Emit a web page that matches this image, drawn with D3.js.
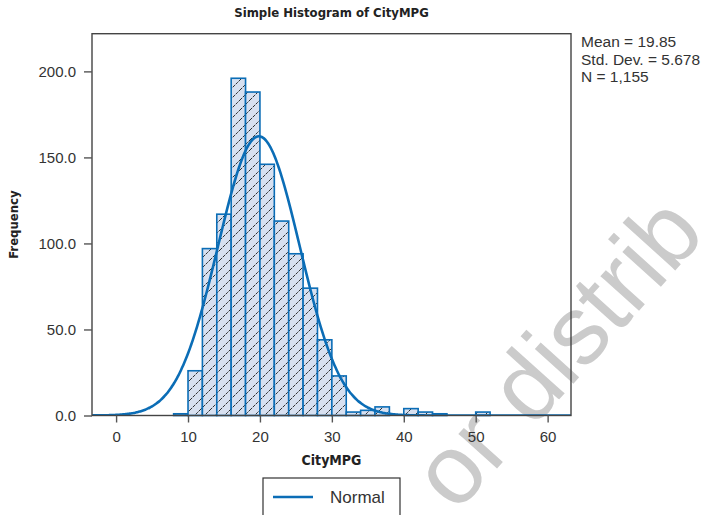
<!DOCTYPE html>
<html>
<head>
<meta charset="utf-8">
<script src="https://cdn.jsdelivr.net/npm/d3@7"></script>
<style>
  html, body { margin: 0; padding: 0; background: #fff; }
  svg { display: block; }
</style>
</head>
<body>
<svg id="chart" width="710" height="515"></svg>
<script>
// ---- data ----
const binLower = [8, 10, 12, 14, 16, 18, 20, 22, 24, 26, 28, 30, 32, 34, 36, 40, 42, 44, 50];
const binCounts = [1, 26, 97, 117, 196, 188, 146, 113, 94, 74, 44, 23, 2, 3, 5, 4, 2, 1, 2];
const binWidth = 2;
const statMean = 19.85;
const statSD = 5.678;
const statN = 1155;
const statLines = ["Mean = 19.85", "Std. Dev. = 5.678", "N = 1,155"];
const yTicks = [0, 50, 100, 150, 200];
const xTicks = [0, 10, 20, 30, 40, 50, 60];
const titleText = "Simple Histogram of CityMPG";
const xLabel = "CityMPG";
const yLabel = "Frequency";
const legendLabel = "Normal";
const watermarkText = "or distrib";

// ---- layout ----
const svg = d3.select("#chart");
const L = 92, R = 571, T = 33.7, B = 415.5;
const x = d3.scaleLinear().domain([-3.35, 63.25]).range([L, R]);
const y = d3.scaleLinear().domain([0, 221.9]).range([B, T]);

const blue = "#0b6db6";
const axisCol = "#444";
const textCol = "#333";
const font = "'Liberation Sans', Arial, sans-serif";
const narrow = "'Liberation Sans Narrow', 'DejaVu Sans Condensed', 'Liberation Sans', sans-serif";

// watermark
svg.append("text")
  .attr("transform", "translate(456,514) rotate(-48)")
  .attr("font-family", font).attr("font-size", 98).attr("fill", "#cbcbcb")
  .text(watermarkText);

// hatch pattern
const defs = svg.append("defs");
const pat = defs.append("pattern").attr("id", "hatch")
  .attr("patternUnits", "userSpaceOnUse").attr("width", 10).attr("height", 10);
pat.append("rect").attr("width", 10).attr("height", 10).attr("fill", "#d7e0f0");
pat.append("path").attr("d", "M-1,1 L1,-1 M0,10 L10,0 M9,11 L11,9")
  .attr("stroke", "#1a1a1a").attr("stroke-width", 0.9).attr("stroke-dasharray", "3,1");

const clip = defs.append("clipPath").attr("id", "plotclip");
clip.append("rect").attr("x", L).attr("y", T).attr("width", R - L).attr("height", B - T);

// bars
svg.append("g").selectAll("rect").data(binLower.map((b, i) => ({b, c: binCounts[i]})))
  .join("rect")
  .attr("x", d => x(d.b))
  .attr("y", d => y(d.c))
  .attr("width", d => x(d.b + binWidth) - x(d.b))
  .attr("height", d => y(0) - y(d.c))
  .attr("fill", "url(#hatch)")
  .attr("stroke", blue).attr("stroke-width", 1.6);

// normal curve (from displayed mean / sd / N)
const pdf = v => statN * binWidth * Math.exp(-0.5 * Math.pow((v - statMean) / statSD, 2)) / (statSD * Math.sqrt(2 * Math.PI));
const xs = d3.range(-3.35, 63.3, 0.2);
svg.append("path")
  .attr("clip-path", "url(#plotclip)")
  .datum(xs)
  .attr("fill", "none").attr("stroke", blue).attr("stroke-width", 2.6)
  .attr("d", d3.line().x(d => x(d)).y(d => y(pdf(d))).curve(d3.curveBasis));

// frame
svg.append("rect").attr("x", L).attr("y", T).attr("width", R - L).attr("height", B - T)
  .attr("fill", "none").attr("stroke", axisCol).attr("stroke-width", 1.4);

// axes
const yAxis = svg.append("g").attr("transform", `translate(${L},0)`)
  .call(d3.axisLeft(y).tickValues(yTicks).tickFormat(d3.format(".1f")).tickSize(8).tickPadding(8));
const xAxis = svg.append("g").attr("transform", `translate(0,${B})`)
  .call(d3.axisBottom(x).tickValues(xTicks).tickFormat(d3.format("d")).tickSize(7).tickPadding(9));
[yAxis, xAxis].forEach(a => {
  a.select(".domain").remove();
  a.selectAll(".tick line").attr("stroke", "#555").attr("stroke-width", 1.4);
  a.selectAll(".tick text").attr("fill", textCol).attr("font-family", font).attr("font-size", 15);
});

// titles
svg.append("text").attr("x", (L + R) / 2).attr("y", 17).attr("text-anchor", "middle")
  .attr("font-family", narrow).attr("font-weight", "bold").attr("font-size", 13)
  .attr("fill", "#222").text(titleText);
svg.append("text").attr("x", (L + R) / 2).attr("y", 465).attr("text-anchor", "middle")
  .attr("font-family", narrow).attr("font-weight", "bold").attr("font-size", 14)
  .attr("fill", "#222").text(xLabel);
svg.append("text").attr("transform", `translate(18,${(T + B) / 2}) rotate(-90)`)
  .attr("text-anchor", "middle")
  .attr("font-family", narrow).attr("font-weight", "bold").attr("font-size", 13)
  .attr("fill", "#222").text(yLabel);

// stats
svg.append("g").selectAll("text").data(statLines).join("text")
  .attr("x", 581).attr("y", (d, i) => 47 + i * 17.5)
  .attr("font-family", font).attr("font-size", 15.5).attr("fill", textCol)
  .text(d => d);

// legend
const lg = svg.append("g");
lg.append("rect").attr("x", 263).attr("y", 478).attr("width", 137).attr("height", 60)
  .attr("fill", "#fff").attr("stroke", "#333").attr("stroke-width", 1.2);
lg.append("line").attr("x1", 273).attr("x2", 313).attr("y1", 497).attr("y2", 497)
  .attr("stroke", blue).attr("stroke-width", 2.6);
lg.append("text").attr("x", 330).attr("y", 503)
  .attr("font-family", font).attr("font-size", 17).attr("fill", textCol).text(legendLabel);
</script>
</body>
</html>
